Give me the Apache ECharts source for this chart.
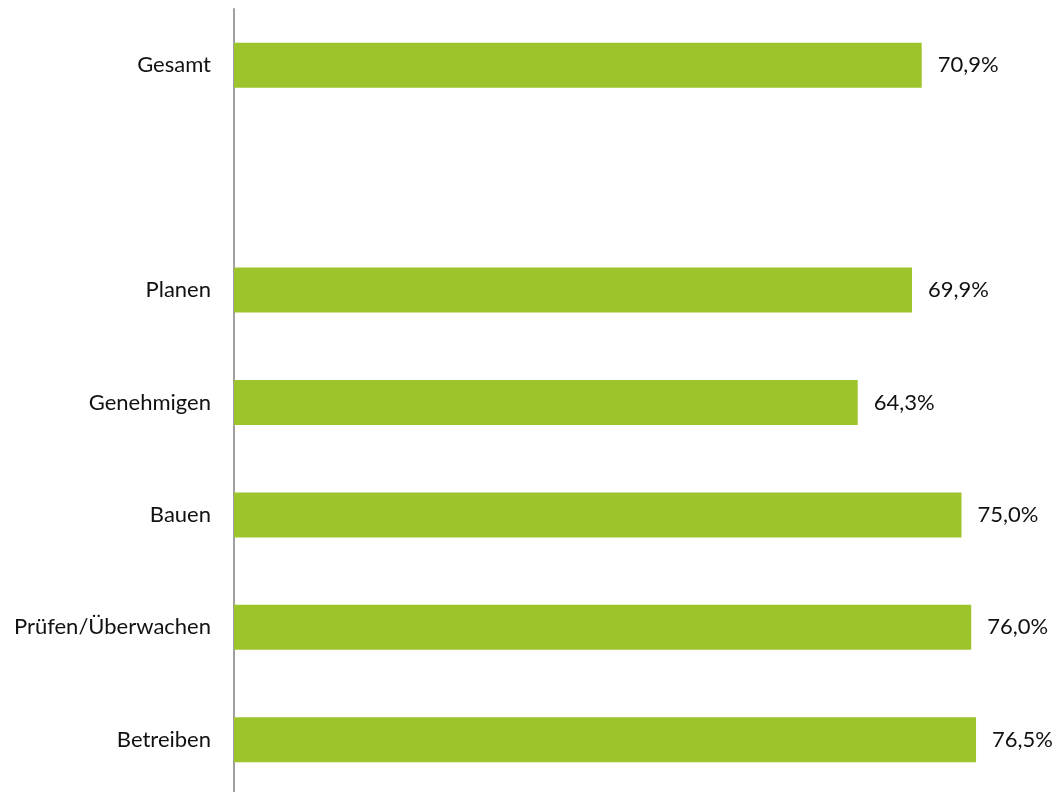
<!DOCTYPE html>
<html>
<head>
<meta charset="utf-8">
<script src="https://cdn.jsdelivr.net/npm/echarts@6/dist/echarts.min.js"></script>
<style>
    html, body { margin: 0; padding: 0; background: #fff; }
    #main { width: 1055px; height: 792px; }
</style>
</head>
<body>
<div id="main"></div>
<script>
var categories = ['Gesamt', '', 'Planen', 'Genehmigen', 'Bauen', 'Prüfen/Überwachen', 'Betreiben'];
var values = [70.9, null, 69.9, 64.3, 75.0, 76.0, 76.5];

var option = {
    animation: false,
    grid: {
        left: 234,
        top: 9,
        width: 776,
        height: 787,
        outerBoundsMode: 'none',
        containLabel: false
    },
    xAxis: {
        type: 'value',
        min: 0,
        max: 80,
        show: false
    },
    yAxis: {
        type: 'category',
        inverse: true,
        data: categories,
        axisLine: { lineStyle: { color: '#a0a0a0', width: 2 } },
        axisTick: { show: false },
        axisLabel: {
            margin: 23,
            color: '#111',
            fontFamily: 'Lato',
            fontSize: 22
        }
    },
    series: [
        {
            type: 'bar',
            data: values,
            barWidth: 45,
            itemStyle: { color: '#9dc42a' },
            label: {
                show: true,
                position: 'right',
                distance: 16,
                color: '#111',
                fontFamily: 'Lato',
                fontSize: 22,
                formatter: function (p) {
                    return p.value.toFixed(1).replace('.', ',') + '%';
                }
            }
        }
    ]
};

echarts.init(document.getElementById('main')).setOption(option);
</script>
</body>
</html>
